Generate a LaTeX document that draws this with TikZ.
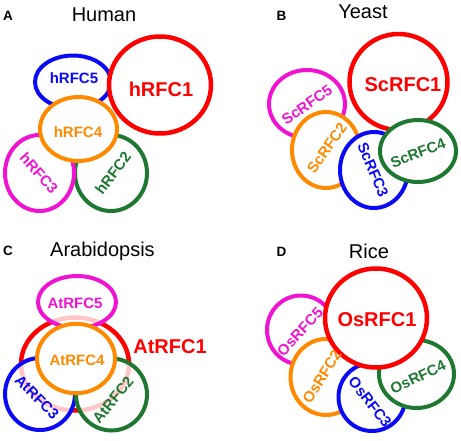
\documentclass[tikz,border=0pt]{standalone}
\usepackage{fontspec}
\setmainfont{Liberation Sans}
\definecolor{cred}{HTML}{FF0000}
\definecolor{cblue}{HTML}{0A0AF5}
\definecolor{cmag}{HTML}{F014D2}
\definecolor{corange}{HTML}{FF8A00}
\definecolor{cgreen}{HTML}{1E7832}
\begin{document}
\begin{tikzpicture}[x=1pt,y=-1pt,
  ring/.style={draw=#1, fill=white, line width=4pt},
  bigring/.style={draw=#1, fill=white, line width=4.5pt},
  softring/.style={draw=#1, fill=white, fill opacity=0.78, draw opacity=1, line width=4pt},
  lab/.style={text=#1, font=\bfseries\fontsize{15}{15}\selectfont, inner sep=0pt},
  biglab/.style={text=#1, font=\bfseries\fontsize{20}{20}\selectfont, inner sep=0pt},
  ttl/.style={font=\fontsize{20}{20}\selectfont, anchor=base, inner sep=0pt},
  panel/.style={font=\bfseries\fontsize{13.5}{13.5}\selectfont, anchor=base west, inner sep=0pt}]
\useasboundingbox (0,0) rectangle (461,440);

% ---------- Panel A : Human ----------
\node[panel] (pA) at (3,20.7) {A};
\node[ttl] (tA) at (104,21.7) {Human};
\path[ring=cblue] (73,82) ellipse [x radius=38pt, y radius=26.5pt];
\path[bigring=cred] (160,85) ellipse [x radius=51pt, y radius=48.5pt];
\path[ring=cgreen] (111,173) ellipse [x radius=36pt, y radius=38pt];
\path[ring=cmag] (39.5,173) ellipse [x radius=34.5pt, y radius=38pt];
\path[ring=corange] (78.5,129) ellipse [x radius=38.5pt, y radius=32pt];
\node[lab=cblue] (h5) at (74,78) {hRFC5};
\node[biglab=cred] (h1) at (161,89) {hRFC1};
\node[lab=corange] (h4) at (78,132) {hRFC4};
\node[lab=cmag, rotate=-48] (h3) at (39,173) {hRFC3};
\node[lab=cgreen, rotate=53] (h2) at (113,173) {hRFC2};

% ---------- Panel B : Yeast ----------
\node[panel] (pB) at (276.5,20.7) {B};
\node[ttl] (tB) at (363,18.3) {Yeast};
\path[ring=cmag] (307,104) ellipse [x radius=38pt, y radius=34pt];
\path[bigring=cred] (398.5,82) ellipse [x radius=49pt, y radius=48pt];
\path[ring=corange] (326,150) ellipse [x radius=34pt, y radius=38pt];
\path[ring=cblue] (374,170) ellipse [x radius=34pt, y radius=38pt];
\path[ring=cgreen] (418,151) ellipse [x radius=38pt, y radius=31pt];
\node[biglab=cred] (s1) at (403,85) {ScRFC1};
\node[lab=cmag, rotate=35] (s5) at (307,105) {ScRFC5};
\node[lab=corange, rotate=55] (s2) at (327,148) {ScRFC2};
\node[lab=cblue, rotate=-67] (s3) at (373,170) {ScRFC3};
\node[lab=cgreen, rotate=21] (s4) at (418,153) {ScRFC4};

% ---------- Panel C : Arabidopsis ----------
\node[panel] (pC) at (3,255) {C};
\node[ttl] (tC) at (102.5,256.7) {Arabidopsis};
\path[draw=cred, line width=4.5pt] (75,364) ellipse [x radius=54pt, y radius=46.5pt];
\path[softring=cmag] (77,302) ellipse [x radius=39pt, y radius=26pt];
\path[softring=cblue] (40,394) ellipse [x radius=35pt, y radius=36pt];
\path[softring=cgreen] (111.5,394.5) ellipse [x radius=35.5pt, y radius=36pt];
\path[ring=corange] (76,358.5) ellipse [x radius=39pt, y radius=34.7pt];
\node[lab=cmag] (a5) at (75,303) {AtRFC5};
\node[biglab=cred] (a1) at (170,347) {AtRFC1};
\node[lab=corange] (a4) at (77,360) {AtRFC4};
\node[lab=cblue, rotate=-45] (a3) at (37,397) {AtRFC3};
\node[lab=cgreen, rotate=51] (a2) at (113,400) {AtRFC2};

% ---------- Panel D : Rice ----------
\node[panel] (pD) at (276.5,256) {D};
\node[ttl] (tD) at (369,258.3) {Rice};
\path[ring=cmag] (301,330) ellipse [x radius=34pt, y radius=34.5pt];
\path[ring=corange] (326,377) ellipse [x radius=35.5pt, y radius=38pt];
\path[ring=cblue] (372,397) ellipse [x radius=33.5pt, y radius=34pt];
\path[ring=cgreen] (416.5,374) ellipse [x radius=37.5pt, y radius=34pt];
\path[bigring=cred] (376,318) ellipse [x radius=51pt, y radius=49.5pt];
\node[biglab=cred] (o1) at (377,320) {OsRFC1};
\node[lab=cmag, rotate=47] (o5) at (300,332) {OsRFC5};
\node[lab=corange, rotate=58] (o2) at (322,377) {OsRFC2};
\node[lab=cblue, rotate=-52] (o3) at (370,402) {OsRFC3};
\node[lab=cgreen, rotate=25] (o4) at (418,377) {OsRFC4};
\end{tikzpicture}
\end{document}
